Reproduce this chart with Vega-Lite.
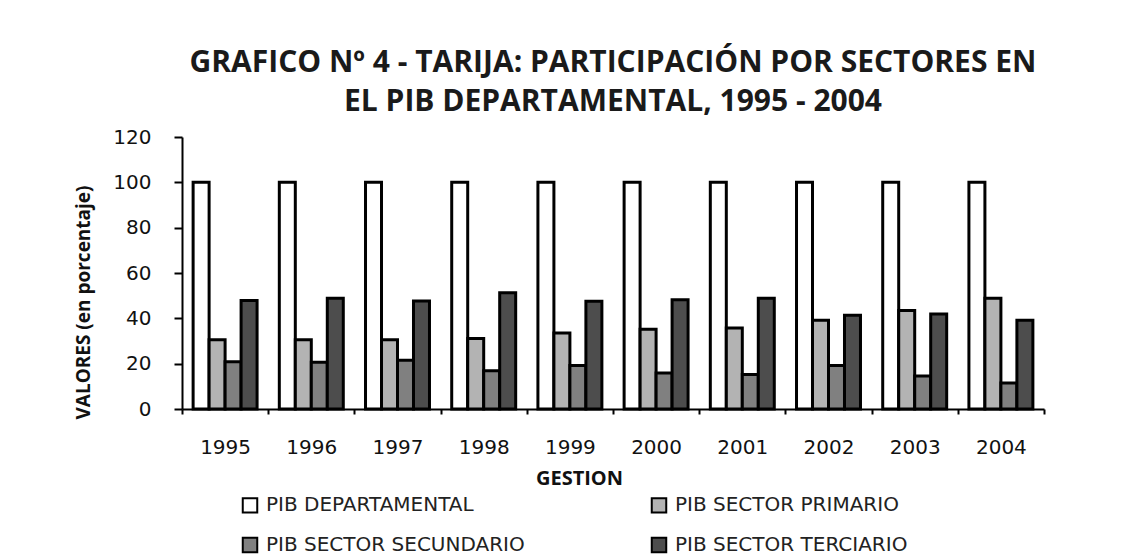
{
  "$schema": "https://vega.github.io/schema/vega-lite/v6.json",
  "width": 862,
  "height": 272,
  "autosize": {"type": "none"},
  "padding": {"left": 182, "top": 137, "right": 85, "bottom": 150},
  "background": "white",
  "title": {
    "text": ["GRAFICO Nº 4 - TARIJA: PARTICIPACIÓN POR SECTORES EN", "EL PIB DEPARTAMENTAL, 1995 - 2004"],
    "font": "Open Sans",
    "fontSize": 30,
    "fontWeight": "bold",
    "color": "#1a1a1a",
    "lineHeight": 39,
    "anchor": "middle",
    "offset": 10
  },
  "data": {
    "values": [
      {"year": "1995", "serie": "PIB DEPARTAMENTAL", "valor": 100},
      {"year": "1995", "serie": "PIB SECTOR PRIMARIO", "valor": 30.5},
      {"year": "1995", "serie": "PIB SECTOR SECUNDARIO", "valor": 20.9},
      {"year": "1995", "serie": "PIB SECTOR TERCIARIO", "valor": 47.9},
      {"year": "1996", "serie": "PIB DEPARTAMENTAL", "valor": 100},
      {"year": "1996", "serie": "PIB SECTOR PRIMARIO", "valor": 30.5},
      {"year": "1996", "serie": "PIB SECTOR SECUNDARIO", "valor": 20.6},
      {"year": "1996", "serie": "PIB SECTOR TERCIARIO", "valor": 48.9},
      {"year": "1997", "serie": "PIB DEPARTAMENTAL", "valor": 100},
      {"year": "1997", "serie": "PIB SECTOR PRIMARIO", "valor": 30.5},
      {"year": "1997", "serie": "PIB SECTOR SECUNDARIO", "valor": 21.5},
      {"year": "1997", "serie": "PIB SECTOR TERCIARIO", "valor": 47.6},
      {"year": "1998", "serie": "PIB DEPARTAMENTAL", "valor": 100},
      {"year": "1998", "serie": "PIB SECTOR PRIMARIO", "valor": 31.1},
      {"year": "1998", "serie": "PIB SECTOR SECUNDARIO", "valor": 16.9},
      {"year": "1998", "serie": "PIB SECTOR TERCIARIO", "valor": 51.3},
      {"year": "1999", "serie": "PIB DEPARTAMENTAL", "valor": 100},
      {"year": "1999", "serie": "PIB SECTOR PRIMARIO", "valor": 33.5},
      {"year": "1999", "serie": "PIB SECTOR SECUNDARIO", "valor": 19.2},
      {"year": "1999", "serie": "PIB SECTOR TERCIARIO", "valor": 47.5},
      {"year": "2000", "serie": "PIB DEPARTAMENTAL", "valor": 100},
      {"year": "2000", "serie": "PIB SECTOR PRIMARIO", "valor": 35.2},
      {"year": "2000", "serie": "PIB SECTOR SECUNDARIO", "valor": 15.9},
      {"year": "2000", "serie": "PIB SECTOR TERCIARIO", "valor": 48.2},
      {"year": "2001", "serie": "PIB DEPARTAMENTAL", "valor": 100},
      {"year": "2001", "serie": "PIB SECTOR PRIMARIO", "valor": 35.7},
      {"year": "2001", "serie": "PIB SECTOR SECUNDARIO", "valor": 15.2},
      {"year": "2001", "serie": "PIB SECTOR TERCIARIO", "valor": 48.9},
      {"year": "2002", "serie": "PIB DEPARTAMENTAL", "valor": 100},
      {"year": "2002", "serie": "PIB SECTOR PRIMARIO", "valor": 39.2},
      {"year": "2002", "serie": "PIB SECTOR SECUNDARIO", "valor": 19.2},
      {"year": "2002", "serie": "PIB SECTOR TERCIARIO", "valor": 41.4},
      {"year": "2003", "serie": "PIB DEPARTAMENTAL", "valor": 100},
      {"year": "2003", "serie": "PIB SECTOR PRIMARIO", "valor": 43.5},
      {"year": "2003", "serie": "PIB SECTOR SECUNDARIO", "valor": 14.6},
      {"year": "2003", "serie": "PIB SECTOR TERCIARIO", "valor": 41.9},
      {"year": "2004", "serie": "PIB DEPARTAMENTAL", "valor": 100},
      {"year": "2004", "serie": "PIB SECTOR PRIMARIO", "valor": 48.9},
      {"year": "2004", "serie": "PIB SECTOR SECUNDARIO", "valor": 11.5},
      {"year": "2004", "serie": "PIB SECTOR TERCIARIO", "valor": 39.2}
    ]
  },
  "mark": {"type": "bar", "stroke": "black", "strokeWidth": 3},
  "encoding": {
    "x": {
      "field": "year",
      "type": "nominal",
      "scale": {"paddingInner": 0, "paddingOuter": 0},
      "axis": {
        "title": "GESTION",
        "titleFont": "Open Sans",
        "titleFontSize": 20,
        "titleFontWeight": "bold",
        "titleColor": "#111111",
        "titleX": 397,
        "titlePadding": 11,
        "labelFont": "DejaVu Sans",
        "labelFontSize": 20,
        "labelColor": "#111111",
        "labelAngle": 0,
        "labelPadding": 23,
        "tickSize": 5,
        "tickBand": "extent",
        "tickColor": "black",
        "tickWidth": 2,
        "domainColor": "black",
        "domainWidth": 2,
        "grid": false
      }
    },
    "xOffset": {
      "field": "serie",
      "type": "nominal",
      "sort": ["PIB DEPARTAMENTAL", "PIB SECTOR PRIMARIO", "PIB SECTOR SECUNDARIO", "PIB SECTOR TERCIARIO"],
      "scale": {"paddingInner": 0, "paddingOuter": 0.695}
    },
    "y": {
      "field": "valor",
      "type": "quantitative",
      "scale": {"domain": [0, 120]},
      "axis": {
        "title": "VALORES (en porcentaje)",
        "titleFont": "Open Sans",
        "titleFontSize": 19,
        "titleFontWeight": "bold",
        "titleColor": "#111111",
        "titleY": 165,
        "titlePadding": 19,
        "values": [0, 20, 40, 60, 80, 100, 120],
        "labelFont": "DejaVu Sans",
        "labelFontSize": 20,
        "labelColor": "#111111",
        "labelPadding": 23,
        "tickSize": 8,
        "tickColor": "black",
        "tickWidth": 2,
        "domainColor": "black",
        "domainWidth": 2,
        "grid": false
      }
    },
    "color": {
      "field": "serie",
      "type": "nominal",
      "scale": {
        "domain": ["PIB DEPARTAMENTAL", "PIB SECTOR PRIMARIO", "PIB SECTOR SECUNDARIO", "PIB SECTOR TERCIARIO"],
        "range": ["#ffffff", "#b3b3b3", "#808080", "#4d4d4d"]
      },
      "legend": {
        "title": null,
        "orient": "none",
        "legendX": 58,
        "legendY": 358,
        "columns": 2,
        "direction": "horizontal",
        "labelFont": "DejaVu Sans",
        "labelFontSize": 20,
        "labelColor": "#222222",
        "labelLimit": 400,
        "labelOffset": 6,
        "symbolType": "square",
        "symbolSize": 210,
        "symbolStrokeColor": "black",
        "symbolStrokeWidth": 2,
        "symbolOpacity": 1,
        "columnPadding": 122,
        "rowPadding": 16
      }
    }
  },
  "config": {"view": {"stroke": null}}
}
